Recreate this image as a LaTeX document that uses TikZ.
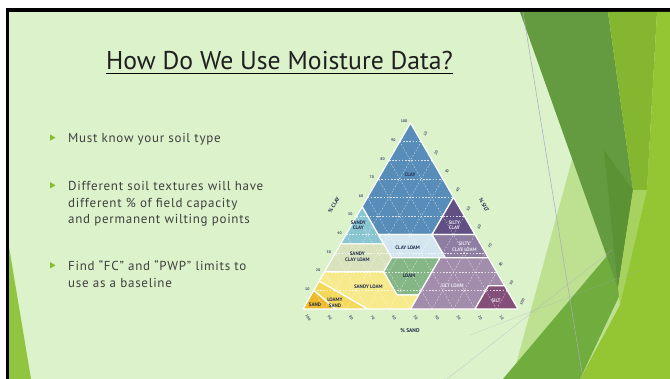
\documentclass[tikz,border=0pt]{standalone}
\usepackage{fontspec}
\setmainfont{PT Sans}
\newfontfamily\bodyfont[LetterSpace=5.5]{PT Sans}
\usepackage{tikz}
\usetikzlibrary{calc}
\definecolor{clrBg}{RGB}{219,242,202}
\definecolor{clrTxt}{RGB}{64,64,64}
\definecolor{clrMark}{RGB}{134,190,42}
\definecolor{clrLbl}{RGB}{36,46,78}
\definecolor{clrPale}{RGB}{232,228,242}
\definecolor{clrDG}{RGB}{100,154,64}
\definecolor{clrDD}{RGB}{90,146,52}
\definecolor{clrYG}{RGB}{132,182,48}
\definecolor{clrBG}{RGB}{148,197,50}
\definecolor{clrMG}{RGB}{112,172,62}
\definecolor{clrLW}{RGB}{190,224,145}
\definecolor{clrLB}{RGB}{168,210,96}
\definecolor{clrLine}{RGB}{170,170,196}
\definecolor{cClay}{RGB}{88,141,186}
\definecolor{cSiCl}{RGB}{96,80,132}
\definecolor{cSaCl}{RGB}{138,198,210}
\definecolor{cClLo}{RGB}{212,230,240}
\definecolor{cSiClLo}{RGB}{142,126,162}
\definecolor{cSaClLo}{RGB}{216,226,188}
\definecolor{cLoam}{RGB}{132,182,134}
\definecolor{cSiLo}{RGB}{162,142,172}
\definecolor{cSilt}{RGB}{132,80,122}
\definecolor{cSaLo}{RGB}{247,234,140}
\definecolor{cLoSa}{RGB}{244,216,92}
\definecolor{cSand}{RGB}{236,186,42}

\begin{document}
\begin{tikzpicture}[x=1pt,y=-1pt,
   ttl/.style={anchor=base,inner sep=0pt,text=black!88,font=\fontsize{25.7}{30}\selectfont},
   bullet/.style={anchor=base west,align=left,inner sep=0pt,text=clrTxt,
     font=\bodyfont\fontsize{13}{16.6}\selectfont},
   soil/.style={draw=white,line width=1.2pt,line join=round},
   grid/.style={white,dash pattern=on 1.6pt off 1.6pt,line width=0.35pt,opacity=0.75},
   lbl/.style={font=\fontsize{5}{5.4}\selectfont\bfseries,text=clrLbl,align=center,inner sep=0pt},
   lbw/.style={lbl,text=clrPale},
   tick/.style={font=\fontsize{3.8}{4}\selectfont\bfseries,text=clrLbl!85,inner sep=0pt},
   axt/.style={font=\fontsize{5.4}{6}\selectfont\bfseries,text=clrLbl,inner sep=0pt}]

  \useasboundingbox (0,0) rectangle (670,379);
  \fill[white] (0,0) rectangle (670,379);
  \fill[black] (6,8) rectangle (670,379);
  \fill[clrBg] (9,12) rectangle (670,379);

  % facets
  \fill[clrMark!90] (9,247) -- (31,379) -- (9,379) -- cycle;
  \fill[clrLW] (578,138) -- (660,150) -- (660,379) -- (512,379) -- cycle;
  \fill[clrMG] (503,379) -- (612,250) -- (622,290) -- (580,379) -- cycle;
  \fill[clrDG] (520,12) -- (608,12) -- (633,190) -- (618,288) -- cycle;
  \fill[clrDD] (604,150) -- (633,190) -- (618,288) -- cycle;
  \fill[clrYG] (608,12) -- (657,12) -- (647,190) -- (633,190) -- cycle;
  \fill[clrLB] (633,190) -- (647,190) -- (620,305) -- (618,288) -- cycle;
  \fill[clrBG] (657,12) -- (670,12) -- (670,379) -- (580,379) -- (620,305) -- (647,190) -- cycle;
  \draw[clrLine,line width=0.5pt] (523,12) -- (583,379);
  \draw[clrLine,line width=0.4pt,opacity=0.5] (447,379) -- (612,250);
  \draw[clrLine,line width=0.4pt,opacity=0.4] (470,335) -- (640,270);

  \node[ttl] (title) at (279.5,69.3) {How Do We Use Moisture Data?};
  \draw[line width=1.5pt] ([yshift=-4.3pt]title.base west) -- ([yshift=-4.3pt]title.base east);

  % multi-line nodes sit on their last baseline
  \node[bullet] (b1) at (68,143) {Must know your soil type};
  \node[bullet] (b2) at (68,224) {Different soil textures will have\\different \% of field capacity\\and permanent wilting points};
  \node[bullet] (b3) at (68,287.3) {Find “FC” and “PWP” limits to\\use as a baseline};
  \foreach \y in {143,190.7,270.7}
    \fill[clrMark] (50,\y-8.6) -- (55.5,\y-5.4) -- (50,\y-2.3) -- cycle;

  % texture triangle: (silt, clay)
  \begin{scope}[shift={(303,309)},x={(2.15pt,0pt)},y={(1.075pt,1.86pt)}]
    \filldraw[soil,fill=cClay] (0,100) -- (0,55) -- (15,40) -- (40,40) -- (40,60) -- cycle;
    \filldraw[soil,fill=cSiCl] (40,60) -- (40,40) -- (60,40) -- cycle;
    \filldraw[soil,fill=cSaCl] (0,55) -- (0,35) -- (20,35) -- (15,40) -- cycle;
    \filldraw[soil,fill=cClLo] (15,40) -- (27.5,27.5) -- (52.5,27.5) -- (40,40) -- cycle;
    \filldraw[soil,fill=cSiClLo] (40,40) -- (52.5,27.5) -- (72.5,27.5) -- (60,40) -- cycle;
    \filldraw[soil,fill=cSaClLo] (0,35) -- (0,20) -- (27.5,20) -- (27.5,27.5) -- (20,35) -- cycle;
    \filldraw[soil,fill=cLoam] (27.5,27.5) -- (27.5,20) -- (40,7.5) -- (50,7.5) -- (50,27.5) -- cycle;
    \filldraw[soil,fill=cSiLo] (50,0) -- (80,0) -- (80,12.5) -- (87.5,12.5) -- (72.5,27.5)
      -- (50,27.5) -- (50,7.5) -- cycle;
    \filldraw[soil,fill=cSaLo] (0,20) -- (0,15) -- (30,0) -- (50,0) -- (50,7.5) -- (40,7.5)
      -- (27.5,20) -- cycle;
    \filldraw[soil,fill=cLoSa] (0,15) -- (0,10) -- (15,0) -- (30,0) -- cycle;
    \filldraw[soil,fill=cSand] (0,10) -- (0,0) -- (15,0) -- cycle;
    \filldraw[soil,fill=cSilt] (80,0) -- (100,0) -- (87.5,12.5) -- (80,12.5) -- cycle;

    \begin{scope}
      \clip (0,0) -- (100,0) -- (0,100) -- cycle;
      \foreach \v in {10,20,...,90} {
        \draw[grid] (0,\v) -- (100-\v,\v);
        \draw[grid] (\v,0) -- (\v,100-\v);
        \draw[grid] (\v,0) -- (0,\v);
      }
    \end{scope}

    \foreach \v in {10,20,...,100} {
      \node[tick,xshift=-6.5pt,yshift=1.5pt] (tc\v) at (0,\v) {\v};
      \node[tick,rotate=60] (ts\v) at (\v,104-\v) {\v};
      \node[tick,rotate=-60] (ta\v) at (104.8-\v,-4.8) {\v};
    }
  \end{scope}

  \node[axt,rotate=60] (axClay) at (334,205) {\% CLAY};
  \node[axt,rotate=-60] (axSilt) at (484,205) {\% SILT};
  \node[axt] (axSand) at (410,331) {\% SAND};

  \node[lbl] (nClay) at (410,175) {CLAY};
  \node[lbw] (nSiCl) at (454.3,225) {SILTY\\CLAY};
  \node[lbl] (nSaCl) at (358.3,225) {SANDY\\CLAY};
  \node[lbl] (nClLo) at (407.7,247.3) {CLAY LOAM};
  \node[lbw] (nSiClLo) at (464.3,246.7) {SILTY\\CLAY LOAM};
  \node[lbl] (nSaClLo) at (357.3,256.7) {SANDY\\CLAY LOAM};
  \node[lbl] (nLoam) at (409,275.7) {LOAM};
  \node[lbl] (nSaLo) at (368.3,286.7) {SANDY LOAM};
  \node[lbw] (nSiLo) at (452.3,285.7) {SILT LOAM};
  \node[lbl] (nLoSa) at (335,302.7) {LOAMY\\SAND};
  \node[lbl] (nSand) at (315,305) {SAND};
  \node[lbw] (nSilt) at (496,300.7) {SILT};
\end{tikzpicture}
\end{document}
